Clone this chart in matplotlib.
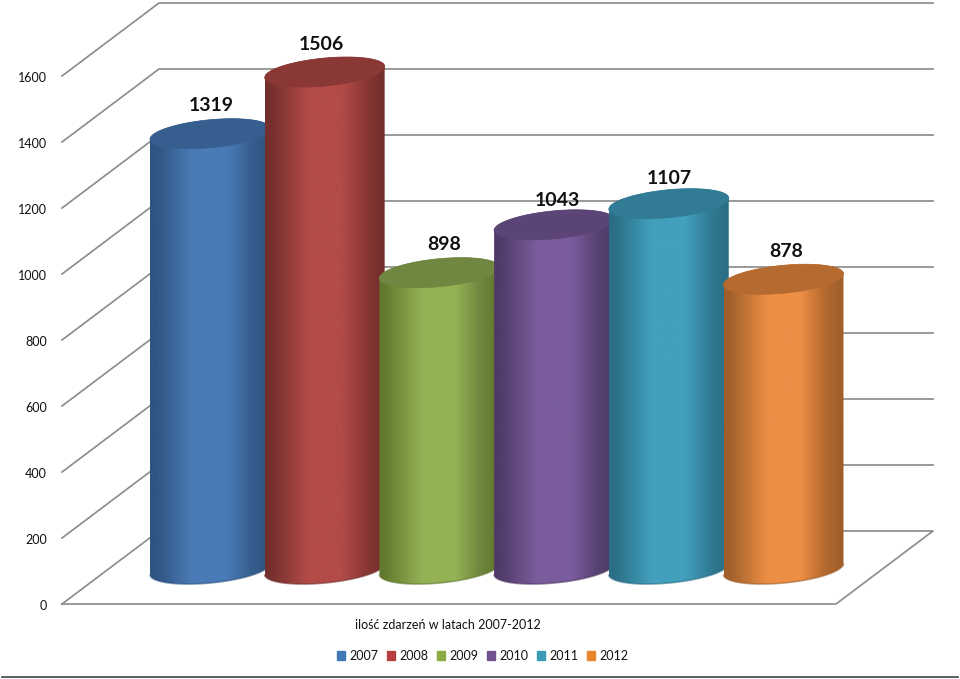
import numpy as np
import matplotlib
matplotlib.use('Agg')
import matplotlib.pyplot as plt
from matplotlib.colors import LinearSegmentedColormap
from matplotlib.patches import Patch
from matplotlib.path import Path

plt.rcParams['font.family'] = ['Lato', 'DejaVu Sans']

years = ['2007', '2008', '2009', '2010', '2011', '2012']
values = [1319, 1506, 898, 1043, 1107, 878]
yticks = [0, 200, 400, 600, 800, 1000, 1200, 1400, 1600]
xlabel = 'ilość zdarzeń w latach 2007-2012'

# main colour, edge colour, lid colour for each bar
main_colors = ['#4a7bb7', '#b34b48', '#93b254', '#7a5c9c', '#42a0bd', '#ec8e45']
edge_colors = ['#2e5480', '#742f2d', '#62792f', '#4f3a68', '#2a6e85', '#a05f2a']
lid_colors = ['#365f8f', '#8a3836', '#6f8740', '#5b4476', '#317c94', '#b56a2f']
legend_colors = ['#4278b4', '#b5403d', '#8cab45', '#71528f', '#3c9cb8', '#e8862f']
label_shift = [1, -3, 5, 3, 1, 3]
label_lift = [28, 28, 28, 24, 25, 28]

W, H = 960, 679
PX_Y = 0.33      # pixels per value unit
PX_X = 114.7     # pixels per bar
X0 = 210         # pixel of first bar centre
Y0 = 604         # pixel of value 0 on the front edge


def px_x(p):
    return (p - X0) / PX_X


def px_y(p):
    return (Y0 - p) / PX_Y


fig = plt.figure(figsize=(9.6, 6.79), dpi=100)
ax = fig.add_axes([0, 0, 1, 1])
ax.axis('off')

# walls and floor, offset of the back wall is 97 px right, 73 px up
grid_c = '#8e8e8e'
dx = 97 / PX_X
dy = 73 / PX_Y
left = px_x(62)
right = px_x(836)
for v in yticks:
    if v == 0:
        ax.plot([left, right, right + dx, left + dx, left], [0, 0, dy, dy, 0], color=grid_c, lw=1.25, zorder=1)
    else:
        ax.plot([left, left + dx, right + dx], [v, v + dy, v + dy], color=grid_c, lw=1.25, zorder=1)
    ax.text(px_x(47), v - 2 / PX_Y, str(v), ha='right', va='center', fontsize=9, color='#111111')

# cylinders
half_w = 60 / PX_X
base = 35 / PX_Y     # base centre sits above the front edge
tilt = 5.5 / PX_Y
rad = 14 / PX_Y
t = np.linspace(0, 2 * np.pi, 181)
front = t[90:]
back = t[:91]

for i, v in enumerate(values):
    z = 3 + i
    top = base + v
    grad = LinearSegmentedColormap.from_list('g', [
        (0.0, edge_colors[i]), (0.04, edge_colors[i]), (0.36, main_colors[i]), (0.64, main_colors[i]),
        (0.84, lid_colors[i]), (0.97, edge_colors[i]), (1.0, edge_colors[i])])
    ext = [i - half_w, i + half_w, base - 2 * rad, top + 2 * rad]

    xb = i + half_w * np.cos(front)
    yb = base + tilt * np.cos(front) + rad * np.sin(front)
    xt = i + half_w * np.cos(back)
    yt = top + tilt * np.cos(back) + rad * np.sin(back)
    body = Path(np.column_stack([np.r_[xb, xt], np.r_[yb, yt]]))
    im = ax.imshow(np.linspace(0, 1, 256)[None, :], cmap=grad, extent=ext, aspect='auto', zorder=z)
    im.set_clip_path(body, transform=ax.transData)
    # darker rim on the base
    ax.plot(xb, yb, color=edge_colors[i], lw=1.2, alpha=0.6, zorder=z, solid_capstyle='butt')

    # lid
    xl = i + half_w * np.cos(t)
    yl = top + tilt * np.cos(t) + rad * np.sin(t)
    ax.fill(xl, yl, color=lid_colors[i], lw=0.5, zorder=z)

    ax.text(i + label_shift[i] / PX_X, top + label_lift[i] / PX_Y, str(v), ha='center', va='center',
            fontsize=14, fontweight='bold', color='#111111', zorder=20)

ax.set_xlim(px_x(0), px_x(W))
ax.set_ylim(px_y(H), px_y(0))

ax.text(px_x(448), px_y(625), xlabel, ha='center', va='center', fontsize=9, color='#111111')

handles = [Patch(color=c, label=y) for c, y in zip(legend_colors, years)]
ax.legend(handles=handles, ncol=6, loc='center', bbox_to_anchor=(483 / W, 1 - 656 / H), frameon=False,
          fontsize=9, handlelength=0.65, handleheight=0.65, handletextpad=0.35, columnspacing=0.68,
          labelcolor='#111111')

# rule under the chart
ax.plot([px_x(2), px_x(958)], [px_y(677), px_y(677)], color='#444444', lw=1.2)

fig.savefig('out.png', dpi=100)
